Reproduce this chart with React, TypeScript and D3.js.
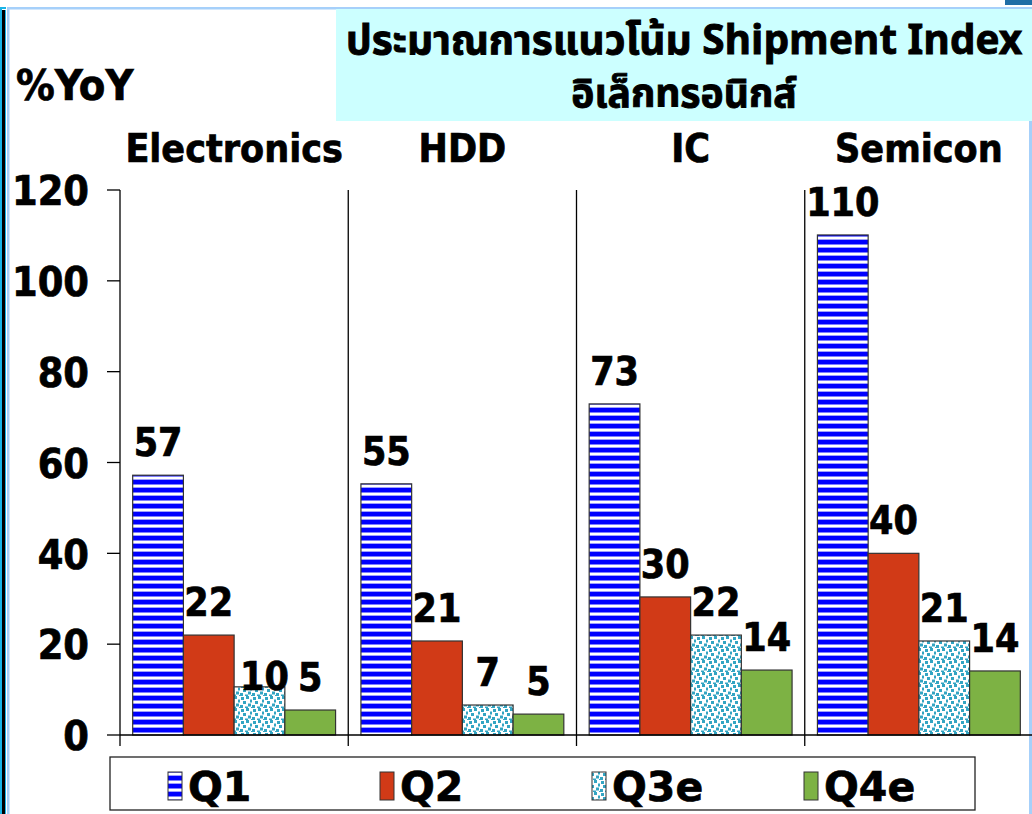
import React from "react";
import * as d3 from "d3";

const categories = ["Electronics", "HDD", "IC", "Semicon"];
const seriesNames = ["Q1", "Q2", "Q3e", "Q4e"];
// bar heights (per category: Q1, Q2, Q3e, Q4e)
const electronicsValues = [57.2, 22, 10.6, 5.5];
const hddValues = [55.3, 20.7, 6.6, 4.6];
const icValues = [72.9, 30.4, 22, 14.3];
const semiconValues = [110.1, 40, 20.7, 14.1];
// printed data labels
const electronicsLabels = ["57", "22", "10", "5"];
const hddLabels = ["55", "21", "7", "5"];
const icLabels = ["73", "30", "22", "14"];
const semiconLabels = ["110", "40", "21", "14"];
const yTicks = [0, 20, 40, 60, 80, 100, 120];
const titleLine1 = "ประมาณการแนวโน้ม Shipment Index";
const titleLine2 = "อิเล็กทรอนิกส์";
const yUnit = "%YoY";

const valuesByCat = [electronicsValues, hddValues, icValues, semiconValues];
const labelsByCat = [electronicsLabels, hddLabels, icLabels, semiconLabels];

const W = 1032;
const H = 814;
const FONT = "'DejaVu Sans Condensed', 'DejaVu Sans', Verdana, sans-serif";
const FONT_WIDE = "'DejaVu Sans', Verdana, sans-serif";
const THAI = "'Noto Sans Thai', 'Loma', 'Garuda', 'Tlwg Typo', 'DejaVu Sans', sans-serif";

const fills: Record<string, string> = {
  Q1: "url(#patQ1)",
  Q2: "#d13a17",
  Q3e: "url(#patQ3)",
  Q4e: "#7db244",
};

const boldText = {
  fontWeight: "bold" as const,
  fill: "#000",
  stroke: "#000",
  strokeWidth: 0.7,
};

export default function App() {
  const y = d3.scaleLinear().domain([0, 120]).range([735, 190]);
  const x0 = d3.scaleBand<string>().domain(categories).range([120, 1033]).padding(0);
  const x1 = d3
    .scaleBand<string>()
    .domain(seriesNames)
    .range([0, x0.bandwidth()])
    .paddingInner(0)
    .paddingOuter(0.25);
  const legendX = d3.scaleBand<string>().domain(seriesNames).range([110, 958]);

  const dots = [
    [1, 1], [6, 0], [10, 3.5], [3, 5], [8, 7.5], [0, 9], [5, 10.5], [11, 11],
  ];

  return (
    <svg
      width={W}
      height={H}
      style={{ position: "absolute", left: 0, top: 0, display: "block", background: "#fff" }}
    >
      <defs>
        <pattern id="patQ1" width="8" height="8" patternUnits="userSpaceOnUse">
          <rect width="8" height="8" fill="#ffffff" />
          <rect y="0" width="8" height="4" fill="#0000ff" />
          <rect y="4" width="8" height="1" fill="#7f7fff" />
          <rect y="7" width="8" height="1" fill="#9f9fff" />
        </pattern>
        <pattern id="patQ3" width="12" height="12" patternUnits="userSpaceOnUse">
          <rect width="12" height="12" fill="#ffffff" />
          {dots.map(([dx, dy], i) => (
            <rect key={i} x={dx} y={dy} width="3" height="3" fill="#33a5c3" />
          ))}
        </pattern>
      </defs>

      {/* frame decorations */}
      <rect x={0} y={8} width={2} height={H} fill="#19b4e6" />
      <rect x={2} y={10} width={3} height={H} fill="#000" />
      <rect x={5} y={10} width={1} height={H} fill="#19b4e6" />
      <rect x={0} y={7} width={6} height={2} fill="#19b4e6" />
      <rect x={7} y={7} width={W} height={2.5} fill="#a6d0fa" />
      <rect x={7} y={7} width={2.5} height={H} fill="#a6d0fa" />
      <rect x={1005} y={0} width={27} height={5} fill="#1f6ea6" />
      <rect x={1029} y={121} width={3} height={H} fill="#a6d0fa" />

      {/* title box */}
      <rect x={336} y={9} width={W - 336} height={112} fill="#ccffff" />
      <text x={684} y={54} textAnchor="middle" fontFamily={THAI} fontSize={40.5} {...boldText} strokeWidth={0.9}>
        {titleLine1}
      </text>
      <text x={684} y={107} textAnchor="middle" fontFamily={THAI} fontSize={39} {...boldText} strokeWidth={0.9}>
        {titleLine2}
      </text>

      <text x={16} y={100} fontFamily={FONT} fontSize={43} {...boldText}>
        {yUnit}
      </text>

      {/* category headers */}
      {categories.map((c) => (
        <text
          key={c}
          x={(x0(c) as number) + x0.bandwidth() / 2}
          y={162}
          textAnchor="middle"
          fontFamily={FONT}
          fontSize={39}
          {...boldText}
        >
          {c}
        </text>
      ))}

      {/* y axis */}
      <line x1={120} x2={120} y1={y(120)} y2={746} stroke="#000" strokeWidth={1.3} />
      {yTicks.map((t) => (
        <g key={t}>
          <line x1={107} x2={120} y1={y(t)} y2={y(t)} stroke="#000" strokeWidth={1.3} />
          <text
            x={89}
            y={y(t)}
            dy="0.37em"
            textAnchor="end"
            fontFamily={FONT}
            fontSize={41}
            {...boldText}
          >
            {t}
          </text>
        </g>
      ))}

      {/* category separators */}
      {categories.slice(1).map((c) => (
        <line
          key={c}
          x1={x0(c) as number}
          x2={x0(c) as number}
          y1={y(120)}
          y2={746}
          stroke="#000"
          strokeWidth={1.3}
        />
      ))}

      {/* bars */}
      {categories.map((c, ci) =>
        seriesNames.map((s, si) => {
          const v = valuesByCat[ci][si];
          const bx = (x0(c) as number) + (x1(s) as number);
          return (
            <rect
              key={c + s}
              x={bx}
              y={y(v)}
              width={x1.bandwidth()}
              height={y(0) - y(v)}
              fill={fills[s]}
              stroke="#333"
              strokeWidth={1.2}
            />
          );
        })
      )}

      {/* x axis */}
      <line x1={120} x2={1032} y1={y(0)} y2={y(0)} stroke="#000" strokeWidth={1.3} />

      {/* data labels */}
      {categories.map((c, ci) =>
        seriesNames.map((s, si) => {
          const v = valuesByCat[ci][si];
          const nudge = c === "Electronics" && s === "Q3e" ? { dx: 5, dy: 22 } : { dx: 0, dy: 0 };
          const cx = (x0(c) as number) + (x1(s) as number) + x1.bandwidth() / 2;
          return (
            <text
              key={"l" + c + s}
              x={cx + nudge.dx}
              y={y(v) - 19 + nudge.dy}
              textAnchor="middle"
              fontFamily={FONT}
              fontSize={39}
              {...boldText}
            >
              {labelsByCat[ci][si]}
            </text>
          );
        })
      )}

      {/* legend */}
      <rect x={110} y={757} width={865} height={53} fill="#fff" stroke="#222" strokeWidth={1.3} />
      {seriesNames.map((s) => {
        const sx = (legendX(s) as number) + 58;
        return (
          <g key={"lg" + s}>
            <rect x={sx} y={772} width={14} height={28} fill={fills[s]} stroke="#333" strokeWidth={1} />
            <text x={sx + 20} y={801} fontFamily={FONT_WIDE} fontSize={41} {...boldText}>
              {s}
            </text>
          </g>
        );
      })}
    </svg>
  );
}
